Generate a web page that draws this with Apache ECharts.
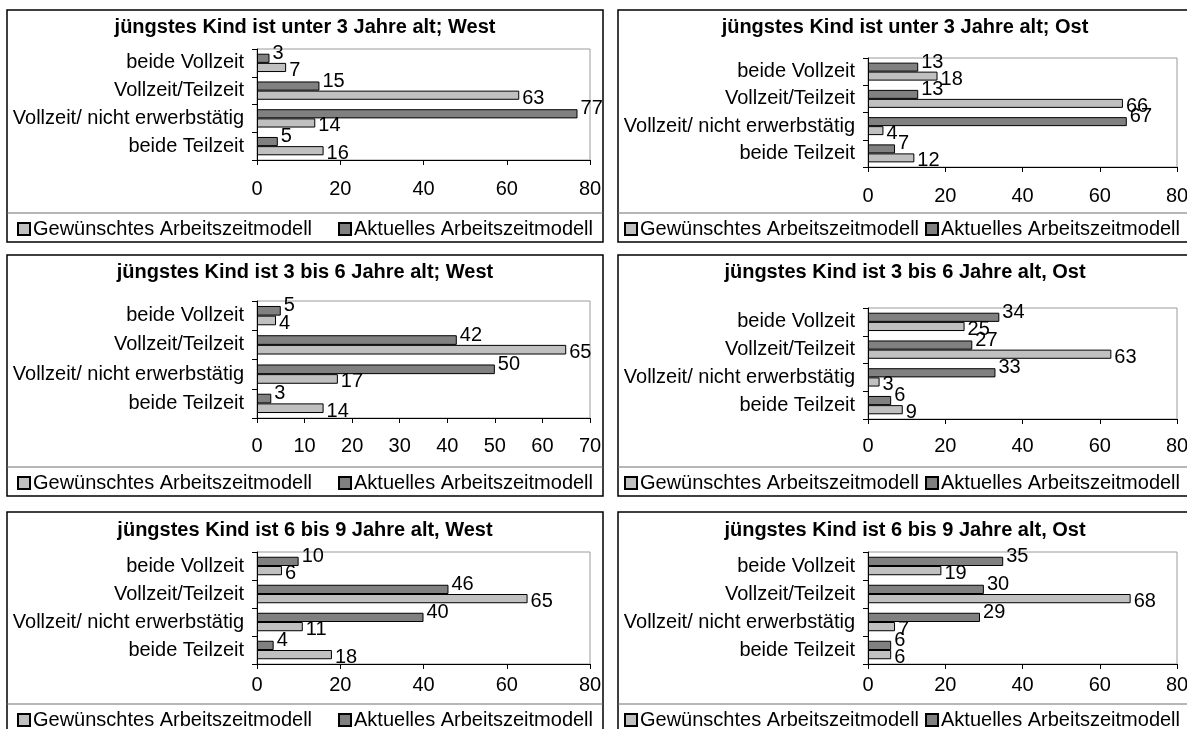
<!DOCTYPE html>
<html><head><meta charset="utf-8">
<script src="https://cdn.jsdelivr.net/npm/echarts@6/dist/echarts.min.js"></script>
<style>html,body{margin:0;padding:0;background:#fff}#c{width:1187px;height:729px}</style>
</head><body><div id="c"></div><script>
// ---------- data ----------
const categories = ["beide Vollzeit", "Vollzeit/Teilzeit", "Vollzeit/ nicht erwerbstätig", "beide Teilzeit"];
const seriesNames = ["Gewünschtes Arbeitszeitmodell", "Aktuelles Arbeitszeitmodell"];
const panelTitles = [
  "jüngstes Kind ist unter 3 Jahre alt; West",
  "jüngstes Kind ist unter 3 Jahre alt; Ost",
  "jüngstes Kind ist 3 bis 6 Jahre alt; West",
  "jüngstes Kind ist 3 bis 6 Jahre alt, Ost",
  "jüngstes Kind ist 6 bis 9 Jahre alt, West",
  "jüngstes Kind ist 6 bis 9 Jahre alt, Ost"
];
const aktuell_u3_west = [3, 15, 77, 5];
const gewuenscht_u3_west = [7, 63, 14, 16];
const aktuell_u3_ost = [13, 13, 67, 7];
const gewuenscht_u3_ost = [18, 66, 4, 12];
const aktuell_3bis6_west = [5, 42, 50, 3];
const gewuenscht_3bis6_west = [4, 65, 17, 14];
const aktuell_3bis6_ost = [34, 27, 33, 6];
const gewuenscht_3bis6_ost = [25, 63, 3, 9];
const aktuell_6bis9_west = [10, 46, 40, 4];
const gewuenscht_6bis9_west = [6, 65, 11, 18];
const aktuell_6bis9_ost = [35, 30, 29, 6];
const gewuenscht_6bis9_ost = [19, 68, 7, 6];
const axisMax = [80, 80, 70, 80, 80, 80];
const axisStep = [20, 20, 10, 20, 20, 20];

const aktuell = [aktuell_u3_west, aktuell_u3_ost, aktuell_3bis6_west, aktuell_3bis6_ost, aktuell_6bis9_west, aktuell_6bis9_ost];
const gewuenscht = [gewuenscht_u3_west, gewuenscht_u3_ost, gewuenscht_3bis6_west, gewuenscht_3bis6_ost, gewuenscht_6bis9_west, gewuenscht_6bis9_ost];

// ---------- layout ----------
const FONT = '"Liberation Sans", Arial, sans-serif';
const FS = 20;
const cols = [
  { boxL: 7, boxR: 603, plotL: 257, plotR: 590, titleX: 305, legendX: 17, legendGap: 26 },
  { boxL: 618, boxR: 1192, plotL: 868, plotR: 1177, titleX: 905, legendX: 624, legendGap: 6 }
];
const rows = [
  { boxT: 10, boxB: 242, sep: 213, titleY: 26, legendY: 229 },
  { boxT: 255, boxB: 496, sep: 467, titleY: 271, legendY: 483 },
  { boxT: 512, boxB: 742, sep: 704, titleY: 529, legendY: 720 }
];
const plots = [
  { top: 49, bottom: 160, labelY: 190 },
  { top: 58, bottom: 167, labelY: 197 },
  { top: 301, bottom: 418, labelY: 447 },
  { top: 308, bottom: 419, labelY: 447 },
  { top: 552, bottom: 664, labelY: 686 },
  { top: 552, bottom: 664, labelY: 686 }
];

const option = {
  animation: false,
  backgroundColor: '#fff',
  textStyle: { fontFamily: FONT },
  title: [], legend: [], grid: [], xAxis: [], yAxis: [], series: [], graphic: []
};

for (let i = 0; i < 6; i++) {
  const c = cols[i % 2], r = rows[Math.floor(i / 2)], p = plots[i];
  option.title.push({
    text: panelTitles[i], left: c.titleX, top: r.titleY - 9, textAlign: 'center', padding: 0,
    textStyle: { fontFamily: FONT, fontSize: FS, fontWeight: 'bold', color: '#000' }
  });
  option.legend.push({
    data: seriesNames, left: c.legendX, top: r.legendY - 10, padding: 0,
    itemWidth: 12, itemHeight: 12, itemGap: c.legendGap, icon: 'rect',
    textStyle: { fontFamily: FONT, fontSize: FS, color: '#000', padding: [0, 0, 0, -2] },
    selectedMode: false
  });
  option.grid.push({
    left: c.plotL, top: p.top, width: c.plotR - c.plotL, height: p.bottom - p.top,
    show: true, borderColor: '#9a9a9a', borderWidth: 1, backgroundColor: '#fff',
    outerBoundsMode: 'none', containLabel: false
  });
  option.xAxis.push({
    gridIndex: i, type: 'value', min: 0, max: axisMax[i], interval: axisStep[i],
    axisLine: { show: true, lineStyle: { color: '#000', width: 1 } },
    axisTick: { show: true, inside: false, length: 5, lineStyle: { color: '#000' } },
    splitLine: { show: false },
    axisLabel: { fontFamily: FONT, fontSize: FS, color: '#000', margin: p.labelY - 11 - p.bottom }
  });
  option.yAxis.push({
    gridIndex: i, type: 'category', data: categories, inverse: true,
    axisLine: { show: true, lineStyle: { color: '#000', width: 1 } },
    axisTick: { show: true, inside: false, length: 5, lineStyle: { color: '#000' } },
    axisLabel: { fontFamily: FONT, fontSize: FS, color: '#000', margin: 13 }
  });
  option.series.push({
    name: seriesNames[1], type: 'bar', xAxisIndex: i, yAxisIndex: i, data: aktuell[i],
    barGap: '0%', barCategoryGap: '34%',
    itemStyle: { color: '#808080', borderColor: '#000', borderWidth: 1 },
    label: { show: true, position: 'right', distance: 3, offset: [0, -5], fontFamily: FONT, fontSize: FS, color: '#000' }
  });
  option.series.push({
    name: seriesNames[0], type: 'bar', xAxisIndex: i, yAxisIndex: i, data: gewuenscht[i],
    barGap: '0%', barCategoryGap: '34%',
    itemStyle: { color: '#c0c0c0', borderColor: '#000', borderWidth: 1 },
    label: { show: true, position: 'right', distance: 3, offset: [0, 3], fontFamily: FONT, fontSize: FS, color: '#000' }
  });
  option.graphic.push({
    type: 'rect', silent: true, z: 100,
    shape: { x: c.boxL, y: r.boxT, width: c.boxR - c.boxL, height: r.boxB - r.boxT },
    style: { fill: 'none', stroke: '#000', lineWidth: 1.5 }
  });
  option.graphic.push({
    type: 'line', silent: true, z: 100,
    shape: { x1: c.boxL, y1: r.sep, x2: c.boxR, y2: r.sep },
    style: { stroke: '#6f6f6f', lineWidth: 1 }
  });
}

const chart = echarts.init(document.getElementById('c'), null, { renderer: 'canvas' });
chart.setOption(option);
</script></body></html>
